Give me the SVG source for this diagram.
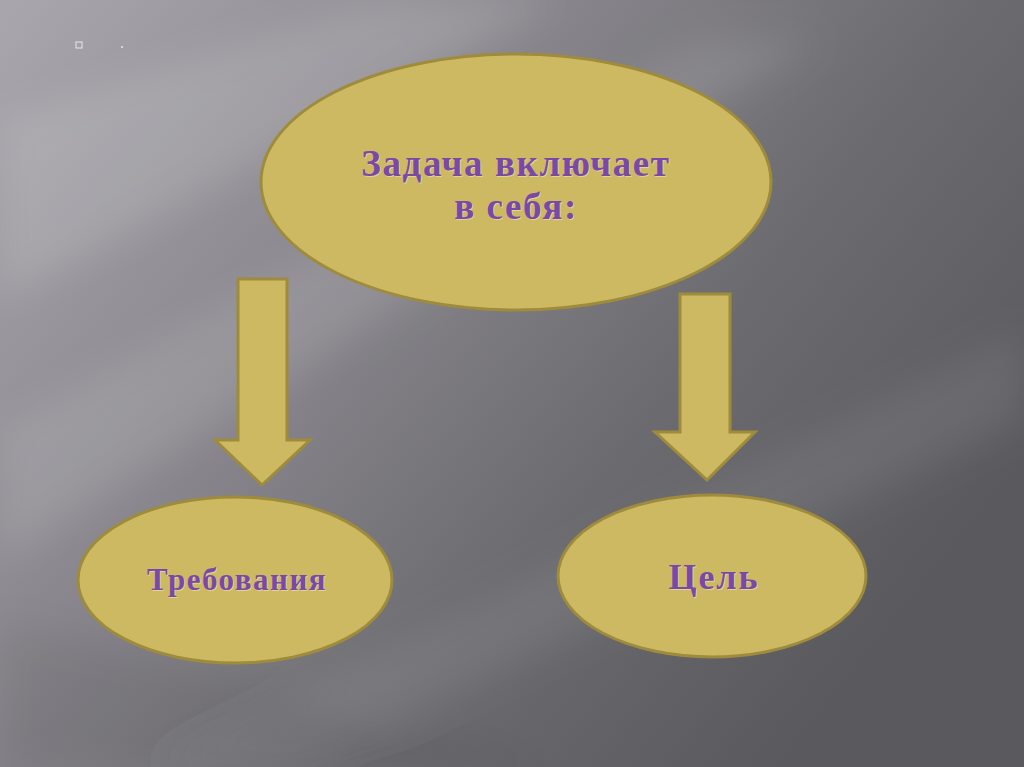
<svg xmlns="http://www.w3.org/2000/svg" width="1024" height="767" viewBox="0 0 1024 767">
<defs>
<linearGradient id="bg" x1="0" y1="0" x2="1" y2="0.6">
<stop offset="0" stop-color="#a9a7ad"/>
<stop offset="0.35" stop-color="#8d8b91"/>
<stop offset="0.7" stop-color="#6c6b70"/>
<stop offset="1" stop-color="#5a595d"/>
</linearGradient>
<filter id="blur" x="-20%" y="-20%" width="140%" height="140%"><feGaussianBlur stdDeviation="18"/></filter>
<style>
.shape{fill:#cdb961;stroke:#9e8c3c;stroke-width:3}
.lbl{font-family:"Liberation Serif","Times New Roman",serif;font-weight:bold;fill:#7a48a6;text-anchor:middle}
.sh{font-family:"Liberation Serif","Times New Roman",serif;font-weight:bold;fill:#efe6c0;text-anchor:middle;opacity:0.6}
</style>
</defs>
<rect x="0" y="0" width="1024" height="767" fill="url(#bg)"/>
<g filter="url(#blur)">
<polygon points="0,120 380,0 560,0 0,300" fill="#ffffff" opacity="0.12"/>
<polygon points="0,430 700,40 820,40 0,560" fill="#ffffff" opacity="0.10"/>
<polygon points="150,767 1024,330 1024,420 300,767" fill="#ffffff" opacity="0.07"/>
<polygon points="0,620 560,767 0,767" fill="#000000" opacity="0.06"/>
</g>
<g id="bullets">
<rect x="76" y="42" width="6" height="6" fill="none" stroke="#e8e8ec" stroke-width="1"/>
<circle cx="122" cy="47" r="1" fill="#e8e8ec"/>
</g>
<g id="connectors">
<polygon class="shape" points="238,279 287,279 287,440 310,440 262,485 215,440 238,440"/>
<polygon class="shape" points="680,294 730,294 730,432 755,432 707,480 655,432 680,432"/>
</g>
<g id="node-task">
<ellipse class="shape" cx="516" cy="182" rx="255" ry="128"/>
<text class="sh" x="517" y="177" font-size="37" letter-spacing="1.6">Задача включает</text>
<text class="lbl" x="516" y="176" font-size="37" letter-spacing="1.6">Задача включает</text>
<text class="sh" x="517" y="220" font-size="37" letter-spacing="1.6">в себя:</text>
<text class="lbl" x="516" y="219" font-size="37" letter-spacing="1.6">в себя:</text>
</g>
<g id="node-req">
<ellipse class="shape" cx="235" cy="580" rx="157" ry="83"/>
<text class="sh" x="238" y="591" font-size="31" letter-spacing="1.5">Требования</text>
<text class="lbl" x="237" y="590" font-size="31" letter-spacing="1.5">Требования</text>
</g>
<g id="node-goal">
<ellipse class="shape" cx="712" cy="576" rx="154" ry="81"/>
<text class="sh" x="715" y="590" font-size="36" letter-spacing="2">Цель</text>
<text class="lbl" x="714" y="589" font-size="36" letter-spacing="2">Цель</text>
</g>
</svg>
